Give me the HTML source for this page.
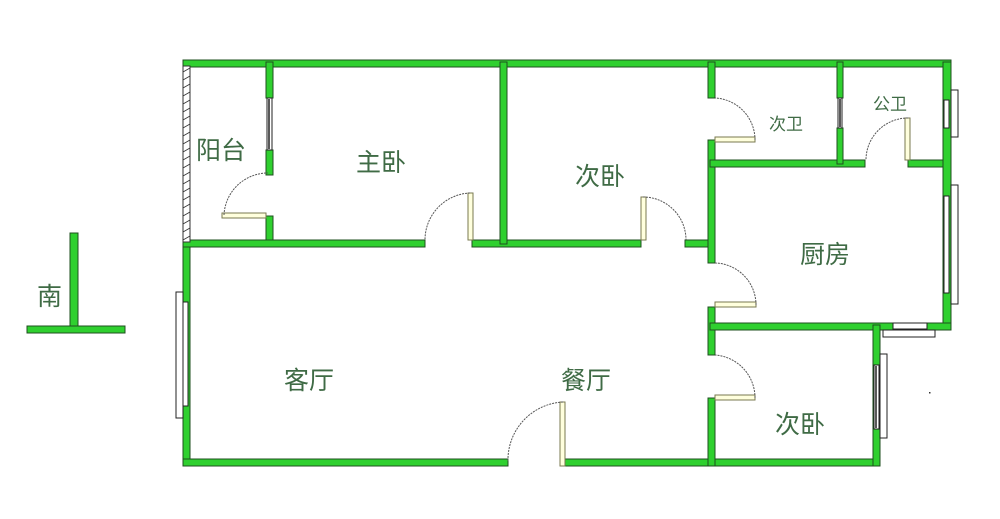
<!DOCTYPE html>
<html><head><meta charset="utf-8"><style>
html,body{margin:0;padding:0;background:#fff;}
svg{display:block}
text{font-family:"Liberation Sans","Noto Sans CJK SC",sans-serif;fill:#3f6b45;}
</style></head><body>
<svg width="1000" height="519" viewBox="0 0 1000 519" xmlns="http://www.w3.org/2000/svg">
<g fill="#2fd02f" stroke="#1f4f1f" stroke-width="1">
<rect x="183" y="60" width="768" height="7"/>
<rect x="183" y="240" width="7" height="226"/>
<rect x="183" y="459" width="325" height="7"/>
<rect x="565" y="459" width="315" height="7"/>
<rect x="266" y="62" width="7" height="36"/>
<rect x="266" y="150" width="7" height="25"/>
<rect x="266" y="216" width="7" height="27"/>
<rect x="183" y="240" width="242" height="7"/>
<rect x="472" y="240" width="169" height="7"/>
<rect x="685" y="240" width="28" height="7"/>
<rect x="500" y="62" width="7" height="182"/>
<rect x="708" y="62" width="7" height="36"/>
<rect x="708" y="140" width="7" height="123"/>
<rect x="708" y="307" width="7" height="48"/>
<rect x="708" y="398" width="7" height="68"/>
<rect x="710" y="160" width="155" height="7"/>
<rect x="908" y="160" width="42" height="7"/>
<rect x="837" y="62" width="6" height="36"/>
<rect x="837" y="128" width="6" height="36"/>
<rect x="943" y="62" width="8" height="268"/>
<rect x="710" y="323" width="241" height="7"/>
<rect x="873" y="325" width="7" height="141"/>
<rect x="70" y="233" width="8" height="96"/>
<rect x="27" y="326" width="98" height="7"/>
</g>
<rect x="183" y="66" width="7" height="176" fill="#fff" stroke="#333" stroke-width="1"/>
<g stroke="#333" stroke-width="0.8">
<path d="M183 72l7-4M183 80l7-4M183 88l7-4M183 96l7-4M183 104l7-4M183 112l7-4M183 120l7-4M183 128l7-4M183 136l7-4M183 144l7-4M183 152l7-4M183 160l7-4M183 168l7-4M183 176l7-4M183 184l7-4M183 192l7-4M183 200l7-4M183 208l7-4M183 216l7-4M183 224l7-4M183 232l7-4M183 240l7-4"/>
</g>
<g fill="#fff" stroke="#222" stroke-width="1">
<rect x="267" y="98" width="5" height="52"/>
<rect x="838" y="98" width="4" height="30"/>
<rect x="951" y="90" width="7" height="47"/>
<rect x="944" y="100" width="5" height="28"/>
<rect x="951" y="185" width="7" height="119"/>
<rect x="944" y="196" width="5" height="97"/>
<rect x="883" y="330" width="52" height="7"/>
<rect x="893" y="323" width="34" height="6"/>
<rect x="880" y="354" width="7" height="84"/>
<rect x="874" y="365" width="5" height="64"/>
<rect x="176" y="292" width="7" height="126"/>
<rect x="183" y="302" width="5" height="104"/>
</g>
<g stroke="#222" stroke-width="1.5"><path d="M269 99V149M840 99V127M876 366V428"/></g>
<g fill="#ffffdd" stroke="#7a7a50" stroke-width="1">
<rect x="468" y="193" width="5" height="47"/>
<rect x="641" y="197" width="5" height="43"/>
<rect x="222" y="213" width="44" height="5"/>
<rect x="715" y="137" width="40" height="5"/>
<rect x="715" y="302" width="41" height="5"/>
<rect x="715" y="395" width="40" height="5"/>
<rect x="905" y="118" width="5" height="42"/>
<rect x="560" y="402" width="5" height="64"/>
</g>
<g fill="none" stroke="#555" stroke-width="1" stroke-dasharray="2,1">
<path d="M470 193 A47 47 0 0 0 425 240"/>
<path d="M643 197 A43 43 0 0 1 686 240"/>
<path d="M224 215 A44 44 0 0 1 268 173"/>
<path d="M755 140 A42 42 0 0 0 715 98"/>
<path d="M756 305 A42 42 0 0 0 715 263"/>
<path d="M755 398 A43 43 0 0 0 715 355"/>
<path d="M908 118 A42 42 0 0 0 866 160"/>
<path d="M563 402 A58 58 0 0 0 508 462"/>
</g>
<g font-size="25">
<text x="196" y="159">阳台</text>
<text x="356" y="171">主卧</text>
<text x="575" y="185">次卧</text>
<text x="800" y="263">厨房</text>
<text x="284" y="389">客厅</text>
<text x="561" y="389">餐厅</text>
<text x="775" y="433">次卧</text>
<text x="37" y="305">南</text>
</g>
<text x="769" y="130" font-size="17">次卫</text>
<text x="873" y="110" font-size="17">公卫</text>
<rect x="929" y="392" width="1.5" height="1.5" fill="#333"/>
</svg>
</body></html>
